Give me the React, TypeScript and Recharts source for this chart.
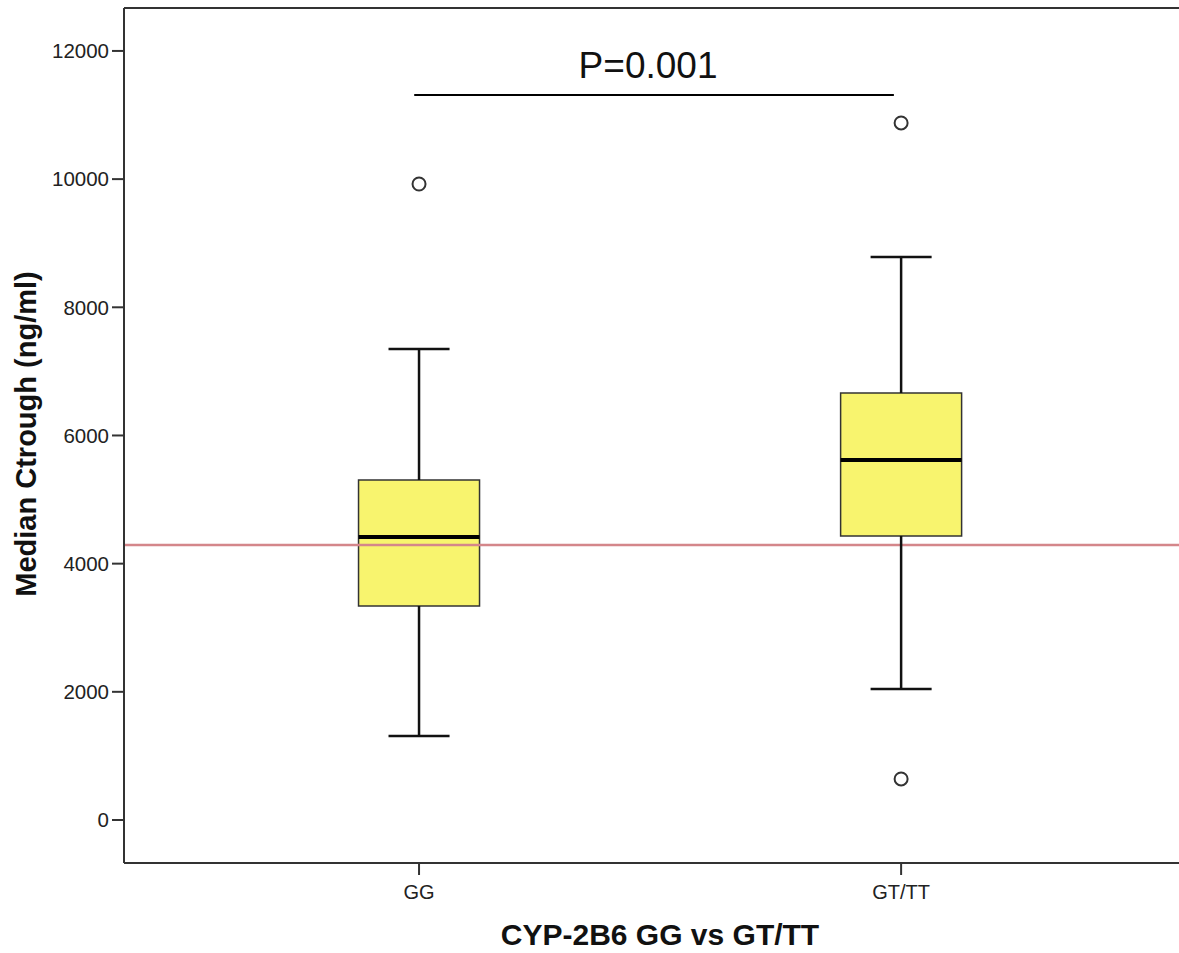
import React from 'react';
import {
  ComposedChart,
  XAxis,
  YAxis,
  Scatter,
  ReferenceArea,
  ReferenceLine,
} from 'recharts';

// box plot summary per genotype group (ng/ml)
const groups = ['GG', 'GT/TT'];
const groupPos = [1, 2];
const whiskerLow = [1311, 2044];
const q1 = [3339, 4432];
const median = [4416, 5617];
const q3 = [5305, 6663];
const whiskerHigh = [7350, 8785];

// outliers
const outlierGroup = [1, 2, 2];
const outlierValue = [9924, 10876, 640];

const referenceValue = 4291;
const pValueLevel = 11313;
const pValueSpan = [0.99, 1.985];
const pValueText = 'P=0.001';

const yTicks = [0, 2000, 4000, 6000, 8000, 10000, 12000];

const FONT = "Arial, 'Liberation Sans', sans-serif";
const X_DOMAIN: [number, number] = [0.388, 2.62];
const Y_DOMAIN: [number, number] = [-671, 12670];
const BOX_HALF = 0.1255;
const CAP_HALF = 0.0633;
const INK = '#111';

const outlierData = outlierGroup.map((g, i) => ({ x: g, y: outlierValue[i] }));

const OutlierDot = (props: any) => {
  const { cx, cy } = props;
  if (cx == null || cy == null) return null;
  return <circle cx={cx} cy={cy} r={6.5} fill="#fff" stroke="#333" strokeWidth={2} />;
};

const App: React.FC = () => {
  return (
    <div
      style={{
        position: 'absolute',
        left: 0,
        top: 0,
        width: 1179,
        height: 953,
        overflow: 'hidden',
        background: '#fff',
      }}
    >
      <ComposedChart
        width={1200}
        height={953}
        data={outlierData}
        margin={{ top: 8, right: 0, left: 0, bottom: 0 }}
      >
        <XAxis
          type="number"
          dataKey="x"
          domain={X_DOMAIN}
          ticks={groupPos}
          allowDataOverflow
          height={90}
          tickFormatter={(v: number) => groups[groupPos.indexOf(v)] ?? ''}
          tick={{ fontSize: 20, fill: '#222', fontFamily: FONT }}
          tickSize={12}
          tickMargin={10}
          tickLine={{ stroke: '#333', strokeWidth: 2 }}
          axisLine={{ stroke: '#333', strokeWidth: 2 }}
          label={{
            content: (p: any) => {
              const vb = p.viewBox;
              return (
                <text
                  x={vb.x + vb.width / 2 - 2}
                  y={945}
                  textAnchor="middle"
                  fontFamily={FONT}
                  fontWeight="bold"
                  fontSize={30}
                  fill={INK}
                >
                  CYP-2B6 GG vs GT/TT
                </text>
              );
            },
          }}
        />
        <YAxis
          type="number"
          dataKey="y"
          domain={Y_DOMAIN}
          ticks={yTicks}
          allowDataOverflow
          width={124}
          tick={{ fontSize: 20.5, fill: '#222', fontFamily: FONT }}
          tickSize={12}
          tickMargin={3}
          tickLine={{ stroke: '#333', strokeWidth: 2 }}
          axisLine={{ stroke: '#333', strokeWidth: 2 }}
          label={{
            content: () => (
              <text
                x={36}
                y={434}
                transform="rotate(-90, 36, 434)"
                textAnchor="middle"
                fontFamily={FONT}
                fontWeight="bold"
                fontSize={29}
                fill={INK}
              >
                Median Ctrough (ng/ml)
              </text>
            ),
          }}
        />

        {/* top frame */}
        <ReferenceLine y={Y_DOMAIN[1]} stroke="#333" strokeWidth={2} />

        {groupPos.map((g, i) => (
          <ReferenceArea
            key={`box-${i}`}
            x1={g - BOX_HALF}
            x2={g + BOX_HALF}
            y1={q1[i]}
            y2={q3[i]}
            fill="#f8f46e"
            fillOpacity={1}
            stroke="#333"
            strokeWidth={1.5}
          />
        ))}

        <ReferenceLine y={referenceValue} stroke="#d4868a" strokeWidth={2.5} />

        {groupPos.map((g, i) => (
          <React.Fragment key={`w-${i}`}>
            <ReferenceLine
              segment={[{ x: g, y: q3[i] }, { x: g, y: whiskerHigh[i] }]}
              stroke={INK}
              strokeWidth={2.5}
            />
            <ReferenceLine
              segment={[{ x: g, y: whiskerLow[i] }, { x: g, y: q1[i] }]}
              stroke={INK}
              strokeWidth={2.5}
            />
            <ReferenceLine
              segment={[{ x: g - CAP_HALF, y: whiskerHigh[i] }, { x: g + CAP_HALF, y: whiskerHigh[i] }]}
              stroke={INK}
              strokeWidth={2.5}
            />
            <ReferenceLine
              segment={[{ x: g - CAP_HALF, y: whiskerLow[i] }, { x: g + CAP_HALF, y: whiskerLow[i] }]}
              stroke={INK}
              strokeWidth={2.5}
            />
            <ReferenceLine
              segment={[{ x: g - BOX_HALF, y: median[i] }, { x: g + BOX_HALF, y: median[i] }]}
              stroke="#000"
              strokeWidth={4}
            />
          </React.Fragment>
        ))}

        {/* significance bracket */}
        <ReferenceLine
          segment={[{ x: pValueSpan[0], y: pValueLevel }, { x: pValueSpan[1], y: pValueLevel }]}
          stroke="#000"
          strokeWidth={2}
          label={{
            content: (p: any) => {
              const vb = p.viewBox;
              return (
                <text
                  x={vb.x + vb.width / 2 - 6}
                  y={vb.y - 17}
                  textAnchor="middle"
                  fontFamily={FONT}
                  fontSize={37}
                  fill={INK}
                >
                  {pValueText}
                </text>
              );
            },
          }}
        />

        <Scatter data={outlierData} shape={OutlierDot} isAnimationActive={false} />
      </ComposedChart>
    </div>
  );
};

export default App;
